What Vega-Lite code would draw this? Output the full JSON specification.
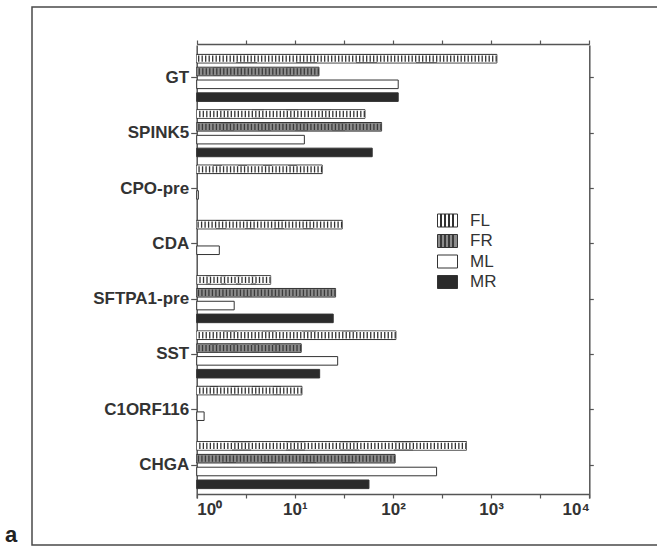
{
  "$schema": "https://vega.github.io/schema/vega-lite/v6.json",
  "width": 626,
  "height": 538,
  "autosize": "none",
  "padding": {"left": 32, "top": 7, "right": 0, "bottom": 2},
  "background": "white",
  "config": {
    "view": {"stroke": "#4a4a4a", "strokeWidth": 1.5},
    "font": "Liberation Sans",
    "axis": {"grid": false, "domainColor": "#555", "tickColor": "#555", "domainWidth": 1.5, "tickWidth": 1.2, "labelColor": "#333", "labelFont": "Liberation Sans", "labelFontWeight": "bold", "title": null}
  },
  "title": {"text": "a", "orient": "bottom", "anchor": "start", "frame": "group", "fontSize": 22, "fontWeight": "bold", "color": "#222", "font": "Liberation Sans", "dx": -27, "offset": -20},
  "data": {"values": [
    {"gene": "GT", "series": "FL", "value": 1143},
    {"gene": "GT", "series": "FR", "value": 17.6},
    {"gene": "GT", "series": "ML", "value": 113},
    {"gene": "GT", "series": "MR", "value": 113},
    {"gene": "SPINK5", "series": "FL", "value": 51.8},
    {"gene": "SPINK5", "series": "FR", "value": 76.5},
    {"gene": "SPINK5", "series": "ML", "value": 12.5},
    {"gene": "SPINK5", "series": "MR", "value": 61.4},
    {"gene": "CPO-pre", "series": "FL", "value": 19},
    {"gene": "CPO-pre", "series": "ML", "value": 1.04},
    {"gene": "CDA", "series": "FL", "value": 30.4},
    {"gene": "CDA", "series": "ML", "value": 1.7},
    {"gene": "SFTPA1-pre", "series": "FL", "value": 5.67},
    {"gene": "SFTPA1-pre", "series": "FR", "value": 26},
    {"gene": "SFTPA1-pre", "series": "ML", "value": 2.41},
    {"gene": "SFTPA1-pre", "series": "MR", "value": 24.6},
    {"gene": "SST", "series": "FL", "value": 107},
    {"gene": "SST", "series": "FR", "value": 11.6},
    {"gene": "SST", "series": "ML", "value": 27.3},
    {"gene": "SST", "series": "MR", "value": 17.9},
    {"gene": "C1ORF116", "series": "FL", "value": 11.8},
    {"gene": "C1ORF116", "series": "ML", "value": 1.19},
    {"gene": "CHGA", "series": "FL", "value": 561},
    {"gene": "CHGA", "series": "FR", "value": 105},
    {"gene": "CHGA", "series": "ML", "value": 278},
    {"gene": "CHGA", "series": "MR", "value": 56.9}
  ]},
  "layer": [
    {
      "mark": {"type": "bar", "strokeWidth": 1},
      "encoding": {
        "y": {"field": "gene", "type": "nominal", "sort": ["GT", "SPINK5", "CPO-pre", "CDA", "SFTPA1-pre", "SST", "C1ORF116", "CHGA"],
              "scale": {"range": [38, 491], "paddingInner": 0.15, "paddingOuter": 0.17},
              "axis": {"orient": "left", "offset": -164.7, "tickSize": 6, "labelPadding": 2, "labelFontSize": 17}},
        "yOffset": {"field": "series", "type": "nominal", "scale": {"domain": ["FL", "FR", "ML", "MR"], "paddingInner": 0.33, "paddingOuter": 0}},
        "x": {"field": "value", "type": "quantitative",
              "scale": {"type": "log", "domain": [1, 10000], "range": [164.7, 557.3]},
              "axis": {"orient": "bottom", "offset": -51, "tickSize": 4, "labelPadding": 3, "labelFontSize": 17,
                       "values": [1, 3.1623, 10, 31.623, 100, 316.23, 1000, 3162.3, 10000],
                       "labelExpr": "indexof([1,10,100,1000,10000], datum.value) >= 0 ? '10' + ['⁰','¹','²','³','⁴'][round(log(datum.value)/LN10)] : ''"}},
        "x2": {"datum": 1},
        "fill": {"field": "series", "type": "nominal",
                 "scale": {"domain": ["FL", "FR", "ML", "MR"], "range": [
                   {"expr": "{gradient: 'linear', x1: 0, y1: 0, x2: 1, y2: 0, stops: [{offset: 0, color: '#ffffff'}, {offset: 0.13, color: '#ffffff'}, {offset: 0.13, color: '#333333'}, {offset: 0.2, color: '#333333'}, {offset: 0.2, color: '#ffffff'}, {offset: 0.33, color: '#ffffff'}, {offset: 0.33, color: '#333333'}, {offset: 0.4, color: '#333333'}, {offset: 0.4, color: '#ffffff'}, {offset: 0.53, color: '#ffffff'}, {offset: 0.53, color: '#333333'}, {offset: 0.6, color: '#333333'}, {offset: 0.6, color: '#ffffff'}, {offset: 0.73, color: '#ffffff'}, {offset: 0.73, color: '#333333'}, {offset: 0.8, color: '#333333'}, {offset: 0.8, color: '#ffffff'}, {offset: 1, color: '#ffffff'}]}"},
                   {"expr": "{gradient: 'linear', x1: 0, y1: 0, x2: 1, y2: 0, stops: [{offset: 0, color: '#8c8c8c'}, {offset: 0.13, color: '#8c8c8c'}, {offset: 0.13, color: '#3a3a3a'}, {offset: 0.2, color: '#3a3a3a'}, {offset: 0.2, color: '#8c8c8c'}, {offset: 0.33, color: '#8c8c8c'}, {offset: 0.33, color: '#3a3a3a'}, {offset: 0.4, color: '#3a3a3a'}, {offset: 0.4, color: '#8c8c8c'}, {offset: 0.53, color: '#8c8c8c'}, {offset: 0.53, color: '#3a3a3a'}, {offset: 0.6, color: '#3a3a3a'}, {offset: 0.6, color: '#8c8c8c'}, {offset: 0.73, color: '#8c8c8c'}, {offset: 0.73, color: '#3a3a3a'}, {offset: 0.8, color: '#3a3a3a'}, {offset: 0.8, color: '#8c8c8c'}, {offset: 1, color: '#8c8c8c'}]}"},
                   "#ffffff", "#2b2b2b"]},
                 "legend": {"orient": "none", "legendX": 405, "legendY": 203, "title": null,
                            "symbolType": "M-1,-0.65H1V0.65H-1Z", "symbolSize": 400, "symbolStrokeWidth": 1,
                            "labelFontSize": 17, "labelColor": "#333", "labelFont": "Liberation Sans", "labelOffset": 12, "rowPadding": 1.5}},
        "stroke": {"field": "series", "type": "nominal",
                   "scale": {"domain": ["FL", "FR", "ML", "MR"], "range": ["#333333", "#333333", "#333333", "#333333"]},
                   "legend": {"orient": "none", "legendX": 405, "legendY": 203, "title": null,
                              "symbolType": "M-1,-0.65H1V0.65H-1Z", "symbolSize": 400, "symbolStrokeWidth": 1,
                              "labelFontSize": 17, "labelColor": "#333", "labelFont": "Liberation Sans", "labelOffset": 12, "rowPadding": 1.5}}
      }
    },
    {
      "transform": [{"filter": "datum.series === 'FL' || datum.series === 'FR'"}],
      "mark": {"type": "rule", "strokeWidth": 7.3},
      "encoding": {
        "y": {"field": "gene", "type": "nominal", "sort": ["GT", "SPINK5", "CPO-pre", "CDA", "SFTPA1-pre", "SST", "C1ORF116", "CHGA"],
              "scale": {"range": [38, 491], "paddingInner": 0.15, "paddingOuter": 0.17}, "axis": null},
        "yOffset": {"field": "series", "type": "nominal", "scale": {"domain": ["FL", "FR", "ML", "MR"], "paddingInner": 0.33, "paddingOuter": 0}},
        "x": {"field": "value", "type": "quantitative", "scale": {"type": "log", "domain": [1, 10000], "range": [164.7, 557.3]}, "axis": null},
        "x2": {"datum": 1},
        "stroke": {"condition": {"test": "datum.series === 'FL'", "value": "#ffffff"}, "value": "#8c8c8c"}
      }
    },
    {
      "transform": [{"filter": "datum.series === 'FL' || datum.series === 'FR'"}],
      "mark": {"type": "rule", "strokeWidth": 6.3, "strokeDash": [1.3, 2.2]},
      "encoding": {
        "y": {"field": "gene", "type": "nominal", "sort": ["GT", "SPINK5", "CPO-pre", "CDA", "SFTPA1-pre", "SST", "C1ORF116", "CHGA"],
              "scale": {"range": [38, 491], "paddingInner": 0.15, "paddingOuter": 0.17},
              "axis": {"orient": "right", "offset": -68.7, "tickSize": 4, "labels": false}},
        "yOffset": {"field": "series", "type": "nominal", "scale": {"domain": ["FL", "FR", "ML", "MR"], "paddingInner": 0.33, "paddingOuter": 0}},
        "x": {"field": "value", "type": "quantitative",
              "scale": {"type": "log", "domain": [1, 10000], "range": [164.7, 557.3]},
              "axis": {"orient": "top", "offset": -37, "tickSize": 4, "labels": false,
                       "values": [1, 3.1623, 10, 31.623, 100, 316.23, 1000, 3162.3, 10000]}},
        "x2": {"datum": 1},
        "stroke": {"condition": {"test": "datum.series === 'FL'", "value": "#333333"}, "value": "#3a3a3a"}
      }
    }
  ],
  "resolve": {"axis": {"x": "independent", "y": "independent"}}
}
